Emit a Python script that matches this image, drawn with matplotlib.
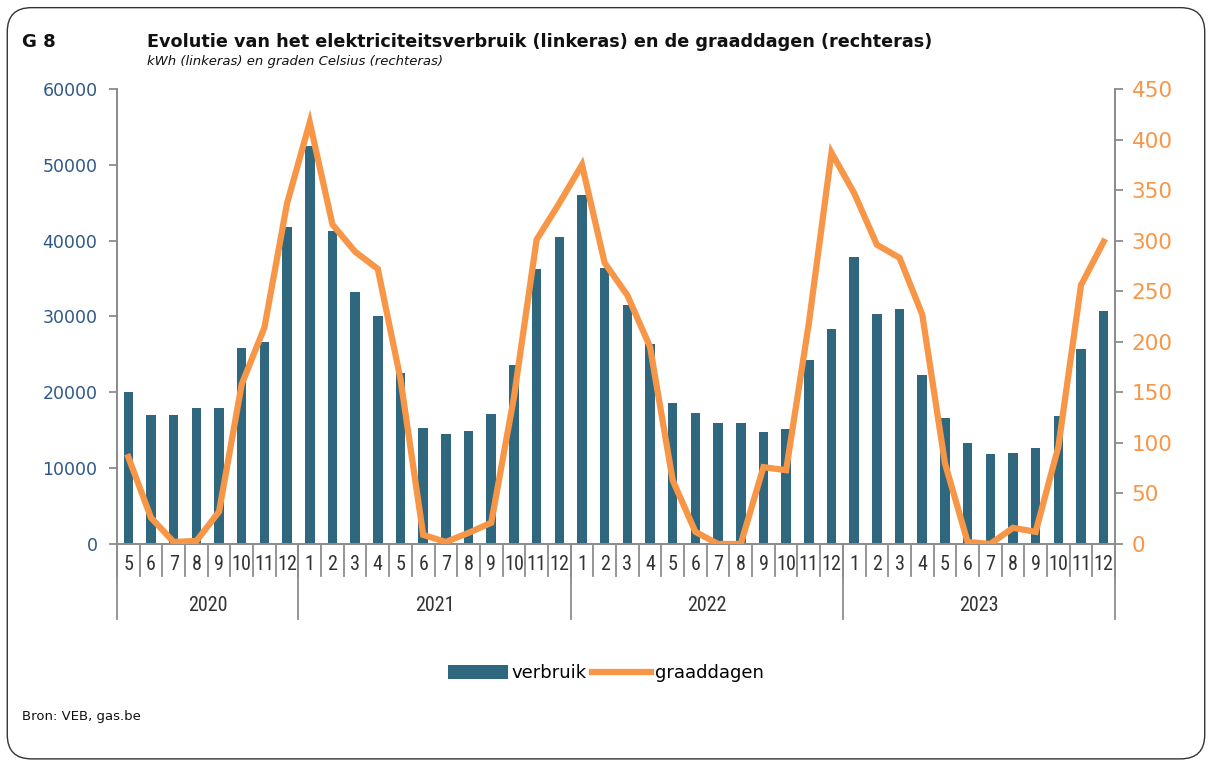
import matplotlib.pyplot as plt
import matplotlib.transforms as mtransforms
from matplotlib import font_manager
from matplotlib.patches import FancyBboxPatch, Patch
from matplotlib.lines import Line2D

# Data: monthly values from May 2020 to December 2023
years = ['2020', '2021', '2022', '2023']
months = ['5', '6', '7', '8', '9', '10', '11', '12'] + [str(m) for m in range(1, 13)] * 3

verbruik = [20000, 17000, 17000, 17900, 17900, 25800, 26600, 41800,
            52500, 41300, 33200, 30100, 22500, 15300, 14500, 14900, 17200, 23600, 36200, 40500,
            46000, 36400, 31500, 26400, 18600, 17300, 16000, 16000, 14800, 15100, 24300, 28300,
            37900, 30300, 31000, 22300, 16600, 13300, 11900, 12000, 12600, 16900, 25700, 30700]

graaddagen = [86, 26, 2, 3, 32, 158, 214, 337,
              417, 316, 289, 272, 163, 9, 2, 11, 21, 145, 301, 337,
              375, 278, 246, 195, 63, 12, 0, 0, 76, 73, 218, 387,
              347, 296, 283, 227, 80, 2, 0, 16, 12, 96, 256, 299]

months_per_year = [8, 12, 12, 12]

bar_color = '#2E677E'
line_color = '#F79646'
left_color = '#2F5888'
grey = '#8C8C8C'

# narrow font for the category labels, if one is around
names = {f.name for f in font_manager.fontManager.ttflist}
narrow = 'DejaVu Sans'
for cand in ['Liberation Sans Narrow', 'DejaVu Sans Condensed', 'Roboto Condensed']:
    if cand in names:
        narrow = cand
        break

fig = plt.figure(figsize=(12.12, 7.65), dpi=100)

# rounded frame around the chart
frame = FancyBboxPatch((0.006, 0.008), 0.988, 0.982, boxstyle='round,pad=0,rounding_size=0.02',
                       transform=fig.transFigure, fill=False, edgecolor='#333333', linewidth=1.0,
                       mutation_aspect=1.58)
fig.patches.append(frame)

ax = fig.add_axes([0.0965, 0.2889, 0.8235, 0.5948])
ax2 = ax.twinx()

x = list(range(len(months)))
ax.bar(x, verbruik, width=0.42, color=bar_color, zorder=2)
ax2.plot(x, graaddagen, color=line_color, linewidth=4.5, solid_joinstyle='miter', zorder=3)

ax.set_xlim(-0.5, len(months) - 0.5)
ax.set_ylim(0, 60000)
ax.set_yticks(range(0, 60001, 10000))
ax2.set_ylim(0, 450)
ax2.set_yticks(range(0, 451, 50))

for a in (ax, ax2):
    for s in a.spines.values():
        s.set_color(grey)
        s.set_linewidth(1.3)
    a.spines['top'].set_visible(False)

ax.tick_params(axis='y', colors=grey, labelcolor=left_color, labelsize=12.5, length=6, width=1.3, pad=8)
ax2.tick_params(axis='y', colors=grey, labelcolor=line_color, labelsize=15.5, length=6, width=1.3, pad=6)
ax.set_xticks([])
ax2.set_zorder(ax.get_zorder() + 1)
ax2.patch.set_visible(False)

# month labels and separators below the axis
fs_cat = 14.5 if narrow != 'DejaVu Sans' else 11.5
trans = mtransforms.blended_transform_factory(ax.transData, ax.transAxes)
for i, m in enumerate(months):
    ax.text(i, -0.045, m, transform=trans, ha='center', va='center', fontsize=fs_cat,
            family=narrow, color='#333333')
for i in range(len(months) + 1):
    ax.plot([i - 0.5, i - 0.5], [0, -0.07], transform=trans, color=grey, linewidth=1.3, clip_on=False)

start = 0
for yr, n in zip(years, months_per_year):
    ax.plot([start - 0.5, start - 0.5], [0, -0.165], transform=trans, color=grey, linewidth=1.3, clip_on=False)
    ax.text(start - 0.5 + n / 2, -0.135, yr, transform=trans, ha='center', va='center', fontsize=fs_cat,
            family=narrow, color='#333333')
    start += n
ax.plot([start - 0.5, start - 0.5], [0, -0.165], transform=trans, color=grey, linewidth=1.3, clip_on=False)

# titles
fig.text(0.018, 0.945, 'G 8', fontsize=13, fontweight='bold', va='center', color='#111111')
fig.text(0.121, 0.945, 'Evolutie van het elektriciteitsverbruik (linkeras) en de graaddagen (rechteras)',
         fontsize=12.7, fontweight='bold', va='center', color='#111111')
fig.text(0.121, 0.919, 'kWh (linkeras) en graden Celsius (rechteras)', fontsize=9.5, style='italic',
         va='center', color='#111111')

handles = [Patch(facecolor=bar_color, label='verbruik'),
           Line2D([0], [0], color=line_color, linewidth=4.5, label='graaddagen')]
fig.legend(handles=handles, loc='center', bbox_to_anchor=(0.5, 0.12), ncol=2, frameon=False,
           fontsize=13, handlelength=3.3, handleheight=0.8, columnspacing=0.3, handletextpad=0.2)

fig.text(0.018, 0.063, 'Bron: VEB, gas.be', fontsize=9.5, va='center', color='#111111')

fig.savefig('out.png', dpi=100)
